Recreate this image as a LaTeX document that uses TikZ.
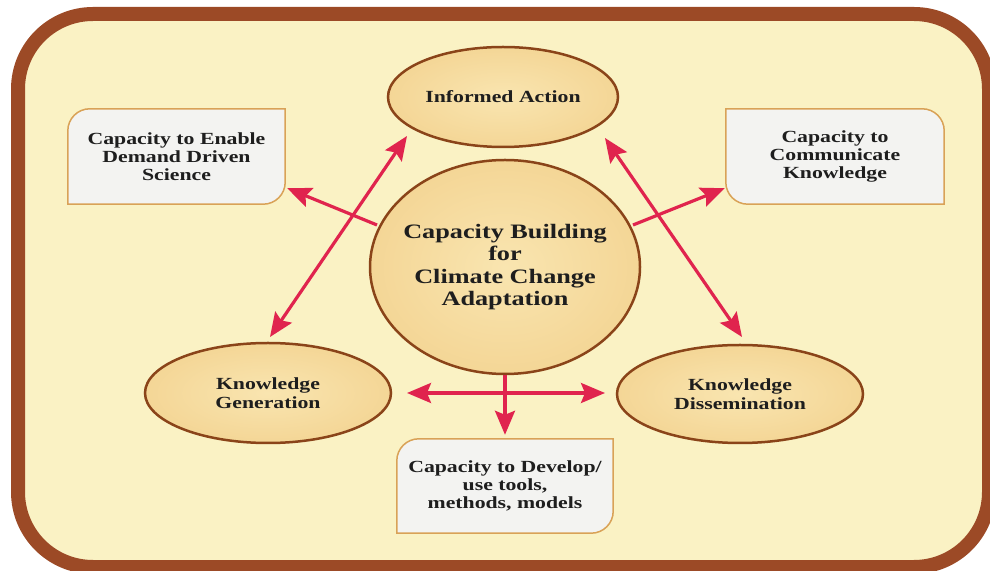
\documentclass[tikz,border=0pt]{standalone}
\usepackage{fontspec}
\setmainfont{Liberation Serif}[FakeStretch=1.28]
\usetikzlibrary{arrows.meta,shapes.geometric,calc}
\pgfdeclarelayer{bottom}
\pgfdeclarelayer{background}
\pgfsetlayers{bottom,background,main}
\definecolor{framebrown}{HTML}{9C4A26}
\definecolor{bgyellow}{HTML}{FAF2C4}
\definecolor{ellborder}{HTML}{8A4419}
\definecolor{ellin}{HTML}{F9E5B0}
\definecolor{ellout}{HTML}{F4D696}
\definecolor{boxfill}{HTML}{F3F3F1}
\definecolor{boxborder}{HTML}{D9A257}
\definecolor{arrowred}{HTML}{E0244E}
\definecolor{txt}{HTML}{1E1E1E}
\begin{document}
\begin{tikzpicture}[x=1pt,y=1pt,
  oval/.style={ellipse, draw=ellborder, line width=2.5pt, inner color=ellin, outer color=ellout,
    inner sep=0pt, align=center, text=txt, font=\bfseries\fontsize{17}{18.5}\selectfont},
  boxnode/.style={rectangle, inner sep=0pt, align=center, text=txt,
    font=\bfseries\fontsize{17}{18.3}\selectfont},
  boxline/.style={draw=boxborder, line width=1.5pt, fill=boxfill},
  link/.style={draw=arrowred, line width=3.2pt, -{Stealth[length=24pt,width=20pt,inset=4pt]}},
  dlink/.style={draw=arrowred, line width=3.2pt,
    {Stealth[length=24pt,width=20pt,inset=4pt]}-{Stealth[length=24pt,width=20pt,inset=4pt]}}
]
\useasboundingbox (0,0) rectangle (990,570);
\clip (0,0) rectangle (990,570);
% frame
\begin{pgfonlayer}{bottom}
\draw[draw=framebrown, fill=bgyellow, line width=14pt, rounded corners=75pt] (18,556) rectangle (989,3);
\end{pgfonlayer}

% ellipses
\node[oval, minimum width=230pt, minimum height=100pt] (IA) at (503,473) {Informed Action};
\node[oval, minimum width=270pt, minimum height=214pt, inner xsep=-25pt,
  font=\bfseries\fontsize{20.5}{22.5}\selectfont] (C) at (505,303)
  {Capacity Building\\for\\Climate Change\\Adaptation};
\node[oval, minimum width=246pt, minimum height=100pt] (KG) at (268,177) {Knowledge\\Generation};
\node[oval, minimum width=246pt, minimum height=98pt] (KD) at (740,176) {Knowledge\\Dissemination};

% boxes
\node[boxnode, minimum width=217pt, minimum height=95pt] (E) at (176.5,413.5)
  {Capacity to Enable\\Demand Driven\\Science};
\node[boxnode, minimum width=218pt, minimum height=95pt] (M) at (835,413.5)
  {Capacity to\\Communicate\\Knowledge};
\node[boxnode, minimum width=216pt, minimum height=94pt] (D) at (505,84)
  {Capacity to Develop/\\use tools,\\methods, models};

\begin{pgfonlayer}{background}
\draw[boxline] (E.south west) -- ($(E.north west)+(0,-22)$)
  arc[start angle=180,end angle=90,radius=22pt] -- (E.north east)
  -- ($(E.south east)+(0,22)$) arc[start angle=0,end angle=-90,radius=22pt] -- cycle;
\draw[boxline] (M.north west) -- ($(M.north east)+(-22,0)$)
  arc[start angle=90,end angle=0,radius=22pt] -- (M.south east)
  -- ($(M.south west)+(22,0)$) arc[start angle=270,end angle=180,radius=22pt] -- cycle;
\draw[boxline] (D.south west) -- ($(D.north west)+(0,-22)$)
  arc[start angle=180,end angle=90,radius=22pt] -- (D.north east)
  -- ($(D.south east)+(0,22)$) arc[start angle=0,end angle=-90,radius=22pt] -- cycle;
\end{pgfonlayer}

% connectors
\draw[link] ($(C.center)+(-128,42)$) -- ($(E.south east)+(2,16)$);
\draw[link] ($(C.center)+(128,42)$) -- ($(M.south west)+(-1,16)$);
\draw[dlink] ($(IA.center)+(-96,-39)$) -- ($(KG.center)+(2,56)$);
\draw[dlink] ($(IA.center)+(102,-41)$) -- ($(KD.center)+(2,57)$);
\draw[dlink] ($(KG.center)+(139,0)$) -- ($(KD.center)+(-135,1)$);
\draw[link] (C.south) -- ($(D.north)+(0,4)$);
\end{tikzpicture}
\end{document}
